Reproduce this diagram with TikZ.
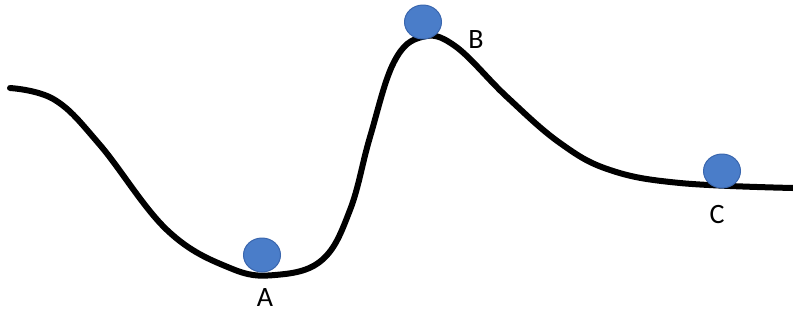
\documentclass[tikz,border=0pt]{standalone}
\usepackage{fontspec}
\setmainfont{Carlito}
\usetikzlibrary{shapes.geometric}
\definecolor{ballblue}{HTML}{4A7DC9}
\definecolor{balledge}{HTML}{3A66AE}
\begin{document}
\begin{tikzpicture}[
                x=1pt, y=-1pt,
                ball/.style={
                    ellipse,
                    fill=ballblue,
                    draw=balledge,
                    line width=1pt,
                    minimum width=37pt,
                    minimum height=34pt,
                    inner sep=0pt
                },
                lbl/.style={
                    font=\fontsize{28}{30}\selectfont,
                    inner sep=0pt
                },
                track/.style={
                    line width=6pt,
                    line cap=round,
                    black
                }
            ]
                \useasboundingbox (0,0) rectangle (793,325);

                \draw[track] plot[smooth, tension=0.65] coordinates {
                    (10,88) (55,100) (100,145) (167,230) (230,268)
                    (275,275) (322,260) (350,210) (370,137) (394,62)
                    (422,37) (455,46) (507,97) (560,143) (610,170)
                    (680,183) (793,188)};

                \node[ball] (ballA) at (262,255) {};
                \node[ball] (ballB) at (423,22)  {};
                \node[ball] (ballC) at (722,171) {};

                \node[lbl] (labA) at (265,298) {A};
                \node[lbl] (labB) at (476,40)  {B};
                \node[lbl] (labC) at (717,215) {C};
        \end{tikzpicture}
\end{document}
